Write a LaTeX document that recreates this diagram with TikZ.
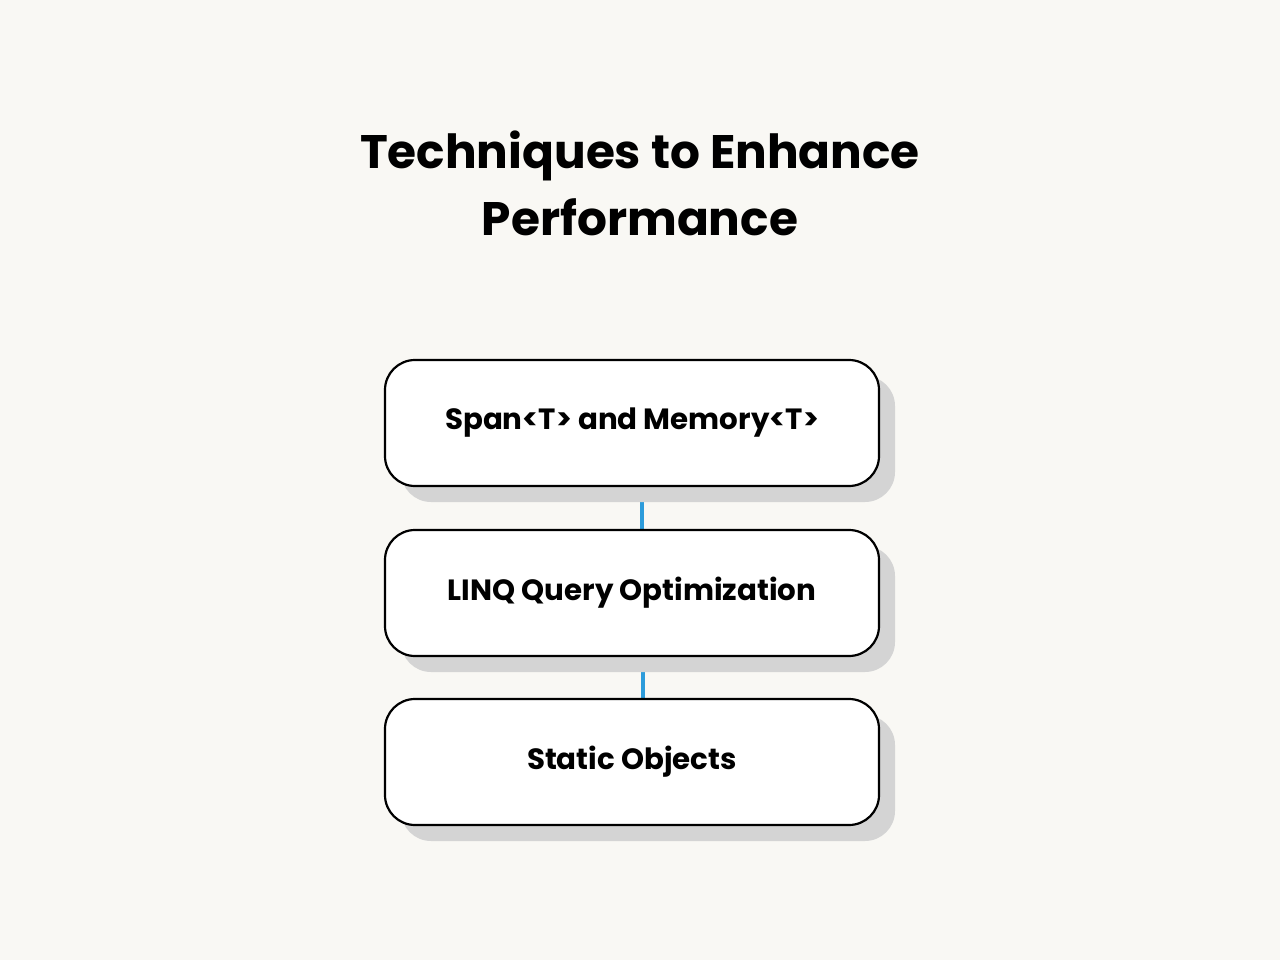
\documentclass[tikz,border=0pt]{standalone}
\usepackage{fontspec}
\setmainfont{Poppins}
\usepackage{xcolor}
\usetikzlibrary{shadows}
\usetikzlibrary{backgrounds}
\definecolor{pagebg}{HTML}{F9F8F4}
\definecolor{shadowgray}{HTML}{D4D4D4}
\definecolor{linkblue}{HTML}{2D9CDB}

\begin{document}
\begin{tikzpicture}[x=1pt,y=-1pt,
        stepbox/.style={draw=black, line width=2.2pt, fill=white, rounded corners=30pt,
            minimum width=494pt, minimum height=126pt,
            general shadow={fill=shadowgray, shadow xshift=16pt, shadow yshift=-16pt},
            font=\fontsize{29.3}{33}\selectfont\bfseries},
        link/.style={draw=linkblue, line width=4.5pt}]
        \useasboundingbox (0,0) rectangle (1280,960);

        \node[align=center, font=\fontsize{47}{67}\selectfont\bfseries] (title) at (640,183)
            {Techniques to Enhance\\Performance};

        \node[stepbox] (span) at (632,423) {Span<T> and Memory<T>};
        \node[stepbox] (linq) at (632,593) {LINQ Query Optimization};
        \node[stepbox] (static) at (632,762) {Static Objects};

        \begin{scope}[on background layer]
            \fill[pagebg] (0,0) rectangle (1280,960);
            \draw[link] (span.south -| 642,0) -- (linq.north -| 642,0);
            \draw[link] (linq.south -| 643,0) -- (static.north -| 643,0);
        \end{scope}
    \end{tikzpicture}
\end{document}
